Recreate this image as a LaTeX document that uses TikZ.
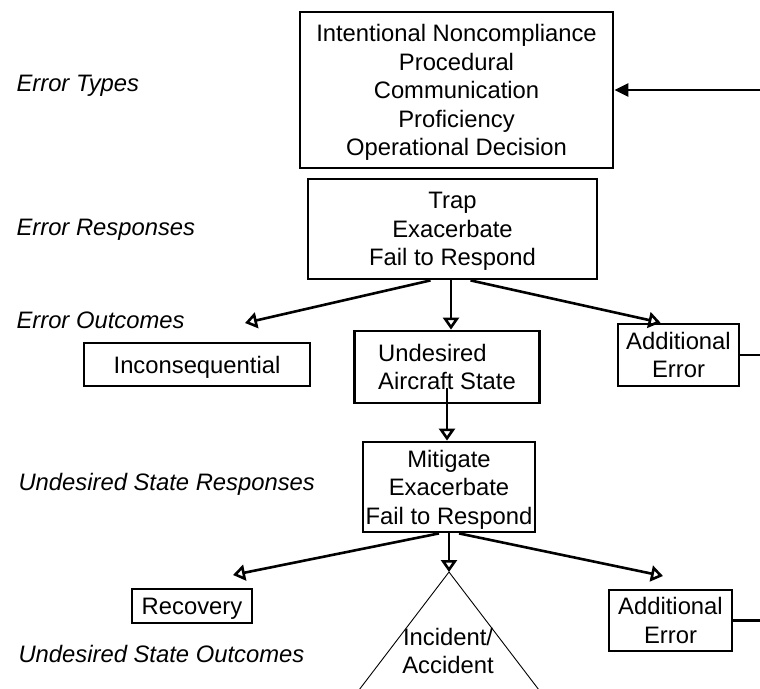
\documentclass[tikz,border=0pt]{standalone}
\usepackage{fontspec}
\setmainfont{Liberation Sans}
\usetikzlibrary{arrows.meta}

\begin{document}
\begin{tikzpicture}[x=1pt, y=-1pt,
    category/.style ={draw, line width=2.8pt, align=center, inner sep=0pt, text depth=0pt,
        font=\fontsize{23.8}{28.5}\selectfont},
    level/.style ={anchor=base west, font=\fontsize{23.8}{28.5}\selectfont\itshape},
    link/.style ={line width=2.6pt, -{Triangle[open, length=12pt, width=16pt]}}]
   \useasboundingbox (0,0) rectangle (760,688);
   % row labels
   \node[level] (L1) at (13,91.5)  {Error Types};
   \node[level] (L2) at (13,235.5) {Error Responses};
   \node[level] (L3) at (13,328.5) {Error Outcomes};
   \node[level] (L4) at (15,490.5) {Undesired State Responses};
   \node[level] (L5) at (15,662.5) {Undesired State Outcomes};
   % boxes
   \node[category, minimum width=313pt, minimum height=156pt] (types) at (456.5,90)
      {Intentional Noncompliance\\Procedural\\Communication\\Proficiency\\Operational Decision};
   \node[category, minimum width=289pt, minimum height=100pt] (resp) at (452.5,229)
      {Trap\\Exacerbate\\Fail to Respond};
   \node[category, minimum width=226pt, minimum height=43pt] (incon) at (197,364.5) {Inconsequential};
   \node[category, minimum width=185pt, minimum height=72pt, align=left] (uas) at (447,367)
      {Undesired\\Aircraft State};
   \node[category, minimum width=121pt, minimum height=62pt] (addA) at (678.5,355) {Additional\\Error};
   \node[category, minimum width=172pt, minimum height=90pt] (mit) at (449,487)
      {Mitigate\\Exacerbate\\Fail to Respond};
   \node[category, minimum width=120pt, minimum height=34pt] (recov) at (192,606) {Recovery};
   \node[category, minimum width=123pt, minimum height=61pt] (addB) at (670.5,620.5) {Additional\\Error};
   \node[align=center, font=\fontsize{23.8}{28.5}\selectfont] (incident) at (448,651) {Incident/\\Accident};
   % free ends
   \coordinate (loopin) at (760,90);
   \coordinate (loopA) at (760,355);
   \coordinate (loopB) at (760,620.5);
   \coordinate (tipI) at (245,323);
   \coordinate (tipR) at (233,575);
   \coordinate (tipB) at (663,576);
   \coordinate (apex) at (449,572);
   \coordinate (footL) at (359,690);
   \coordinate (footR) at (539,690);
   % triangle
   \draw[line width=0.9pt] (footL) -- (apex) -- (footR);
   % connectors
   \draw[line width=2.6pt, -{Triangle[length=14pt, width=13pt]}] (loopin) -- (types.east);
   \draw[line width=2.6pt] (addA.east) -- (loopA);
   \draw[line width=2.6pt] (addB.east) -- (loopB);
   \draw[link] ([xshift=-22pt]resp.south) -- (tipI);
   \draw[link] ([xshift=-1.5pt]resp.south) -- ([xshift=-1.5pt]resp.south |- uas.north);
   \draw[link] ([xshift=18pt]resp.south) -- ([xshift=-18pt]addA.north);
   \draw[link] ([yshift=16pt]uas.south) -- (uas.south |- mit.north);
   \draw[link] ([xshift=-10pt]mit.south) -- (tipR);
   \draw[link] (mit.south) -- (apex);
   \draw[link] ([xshift=10pt]mit.south) -- (tipB);
 \end{tikzpicture}
\end{document}
